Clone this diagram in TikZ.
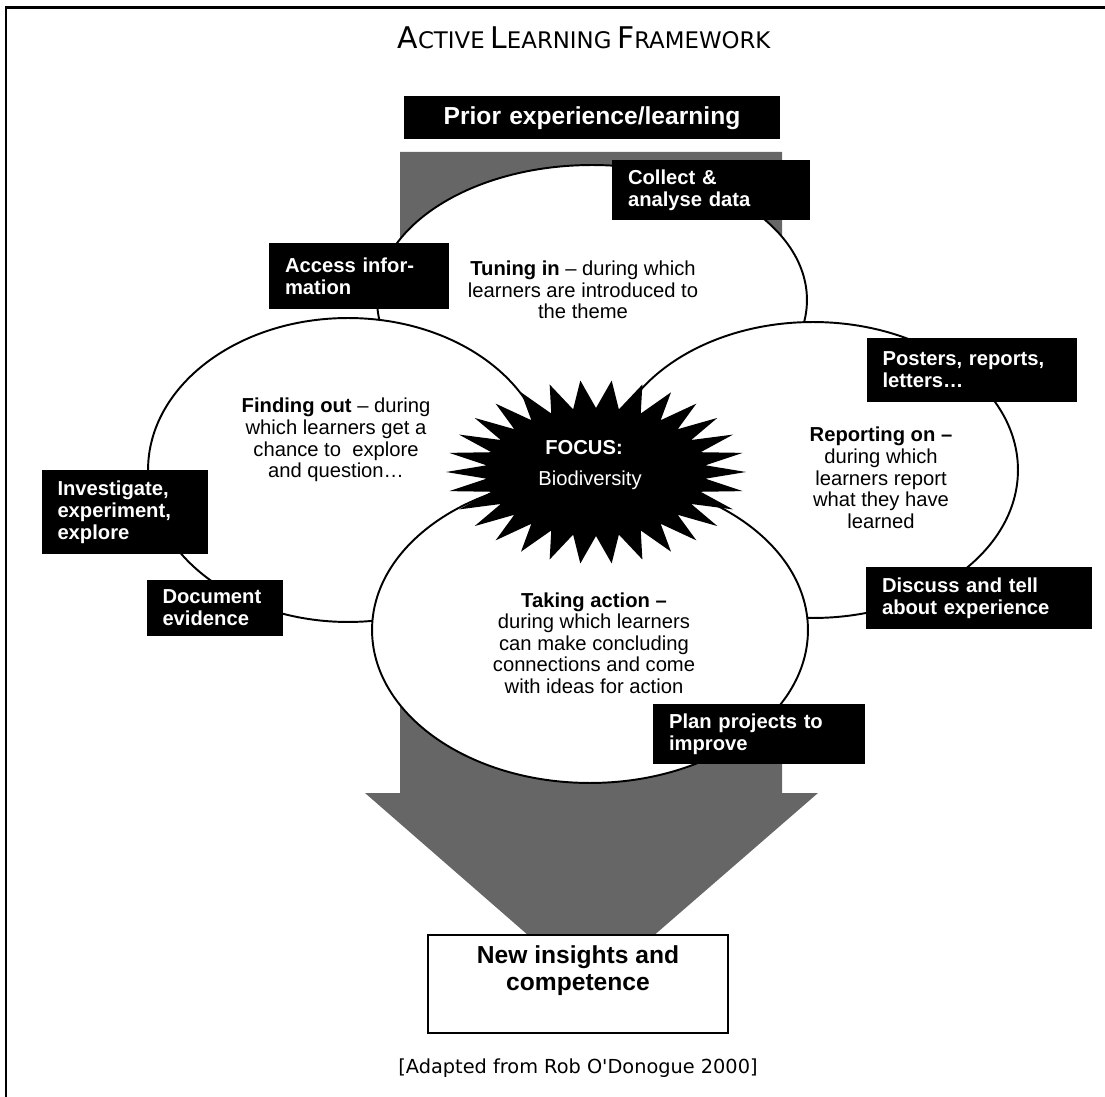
\documentclass[tikz,border=0pt]{standalone}
\usepackage{fontspec}
\setmainfont{Liberation Sans}
\newfontfamily\handfont{DejaVu Sans}
\usetikzlibrary{shapes.geometric}

\newcommand{\capsize}{\fontsize{17}{17}\selectfont}
\newcommand{\scsize}{\fontsize{13}{13}\selectfont}

\tikzset{
  phase/.style={ellipse, draw, line width=1.1pt, fill=white, inner sep=0pt},
  tag/.style={fill=black, text=white, align=left, inner xsep=0.32cm, inner ysep=0pt,
    font=\fontsize{11.5}{12.5}\selectfont\bfseries},
  blurb/.style={align=center, font=\fontsize{11.5}{12.3}\selectfont},
}

\begin{document}
\begin{tikzpicture}[x=0.02cm, y=-0.02cm]
  \useasboundingbox (0,0) rectangle (1105,1097);
  \draw[line width=1.7pt] (6,1097) -- (6,8) -- (1105,8);

  \node[font=\handfont] (title) at (584,38)
    {{\capsize A}{\scsize CTIVE} {\capsize L}{\scsize EARNING} {\capsize F}{\scsize RAMEWORK}};

  % big arrow behind the four phases
  \fill[black!60] (400,152) -- (782,152) -- (782,793) -- (818,793) -- (591,990)
    -- (365,793) -- (400,793) -- cycle;

  % the four phases
  \node[phase, minimum width=8.6cm, minimum height=5.4cm] (tuning) at (592,300) {};
  \node[phase, minimum width=8cm, minimum height=6.08cm] (finding) at (348,470) {};
  \node[phase, minimum width=8.2cm, minimum height=5.92cm] (reporting) at (813,470) {};
  \node[phase, minimum width=8.72cm, minimum height=6.12cm] (taking) at (590,630) {};

  % focus star
  \fill[black] (596,472) +(0:150 and 92)
    \foreach \k in {1,...,30} {
      -- +(\k*360/30-360/60:110 and 64) -- +(\k*360/30:150 and 92)
    } -- cycle;
  \node[text=white, font=\fontsize{11.5}{12}\selectfont\bfseries] (focus) at (584,448) {FOCUS:};
  \node[text=white, font=\fontsize{11.5}{12}\selectfont] (biodiv) at (590,480) {Biodiversity};

  \node[blurb] (tuningtext) at (583,290)
    {\textbf{Tuning in} -- during which\\learners are introduced to\\the theme};
  \node[blurb] (findingtext) at (336,440)
    {\textbf{Finding out} -- during\\which learners get a\\chance to\ \ explore\\and question\dots};
  \node[blurb] (reportingtext) at (881,478)
    {\textbf{Reporting on --}\\during which\\learners report\\what they have\\learned};
  \node[blurb] (takingtext) at (594,643)
    {\textbf{Taking action --}\\during which learners\\can make concluding\\connections and come\\with ideas for action};

  % activity boxes
  \node[tag, align=center, text width=6.88cm, minimum height=0.86cm,
    font=\fontsize{14}{15}\selectfont\bfseries] (prior) at (592,118) {Prior experience/learning};
  \node[tag, text width=3.32cm, minimum height=1.2cm] (collect) at (711,190) {Collect \&\\analyse data};
  \node[tag, text width=2.96cm, minimum height=1.32cm] (access) at (359,276) {Access infor-\\mation};
  \node[tag, text width=3.58cm, minimum height=1.3cm] (posters) at (972,370) {Posters, reports,\\letters\dots};
  \node[tag, text width=2.7cm, minimum height=1.68cm] (investigate) at (125,512) {Investigate,\\experiment,\\explore};
  \node[tag, text width=2.1cm, minimum height=1.14cm] (document) at (215,608) {Document\\evidence};
  \node[tag, text width=3.88cm, minimum height=1.24cm] (discuss) at (979,598) {Discuss and tell\\about experience};
  \node[tag, text width=3.6cm, minimum height=1.22cm] (plan) at (759,734) {Plan projects to\\improve};

  % outcome
  \node[draw, line width=0.9pt, fill=white, minimum width=6cm, minimum height=1.96cm] (insight) at (578,984) {};
  \node[align=center, font=\fontsize{14}{15.4}\selectfont\bfseries] (insighttext) at (578,971)
    {New insights and\\competence};

  \node[font=\handfont\fontsize{11}{13}\selectfont] (source) at (578,1068)
    {[Adapted from Rob O'Donogue 2000]};
\end{tikzpicture}
\end{document}
